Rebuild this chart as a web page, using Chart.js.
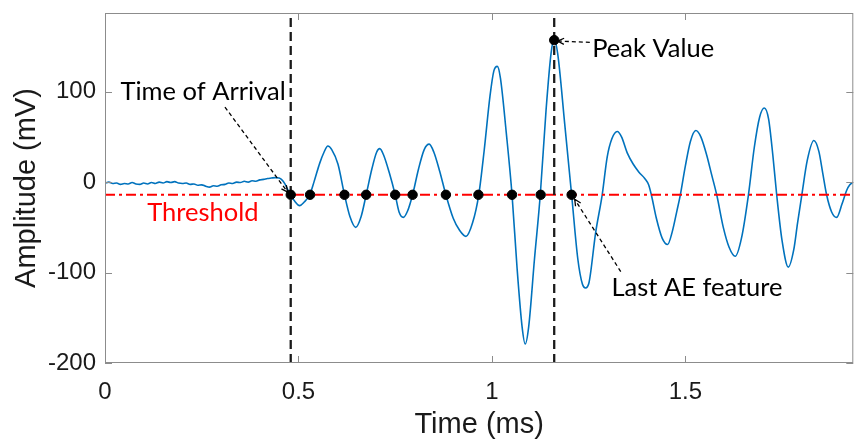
<!DOCTYPE html>
<html>
<head>
<meta charset="utf-8">
<script src="https://cdn.jsdelivr.net/npm/chart.js@4/dist/chart.umd.min.js"></script>
<style>
  body { margin: 0; background: #fff; }
  canvas { display: block; }
</style>
</head>
<body>
<canvas id="aechart" width="859" height="439"></canvas>
<script>
// waveform: time (ms) and amplitude (mV)
var waveTime = [
    0.000, 0.010, 0.020, 0.030, 0.040, 0.050, 0.060, 0.070, 0.080, 0.090,
    0.100, 0.110, 0.120, 0.130, 0.140, 0.150, 0.160, 0.170, 0.180, 0.190,
    0.200, 0.210, 0.220, 0.230, 0.240, 0.250, 0.260, 0.270, 0.280, 0.290,
    0.300, 0.310, 0.320, 0.330, 0.340, 0.350, 0.360, 0.370, 0.380, 0.390,
    0.400, 0.410, 0.420, 0.430, 0.440, 0.450, 0.456, 0.465, 0.472, 0.480,
    0.490, 0.503, 0.515, 0.529, 0.540, 0.555, 0.566, 0.576, 0.586, 0.602,
    0.619, 0.633, 0.648, 0.662, 0.675, 0.690, 0.702, 0.710, 0.720, 0.735,
    0.750, 0.760, 0.771, 0.782, 0.795, 0.810, 0.825, 0.838, 0.850, 0.865,
    0.881, 0.900, 0.916, 0.933, 0.950, 0.966, 0.980, 0.995, 1.005, 1.014,
    1.022, 1.037, 1.052, 1.065, 1.078, 1.086, 1.095, 1.110, 1.125, 1.140,
    1.153, 1.161, 1.170, 1.188, 1.206, 1.222, 1.234, 1.242, 1.251, 1.268,
    1.285, 1.298, 1.310, 1.324, 1.335, 1.350, 1.365, 1.380, 1.395, 1.405,
    1.412, 1.425, 1.440, 1.454, 1.466, 1.478, 1.487, 1.500, 1.513, 1.527,
    1.540, 1.555, 1.568, 1.581, 1.598, 1.613, 1.629, 1.645, 1.663, 1.678,
    1.692, 1.704, 1.715, 1.726, 1.736, 1.750, 1.766, 1.780, 1.790, 1.801,
    1.815, 1.832, 1.845, 1.855, 1.865, 1.878, 1.891, 1.905, 1.917, 1.925,
    1.934
];
var waveAmp = [
    -1, 0, -1.5, -1, -2.5, -1.5, -2, -0.5, -2, -2.5,
    -1, -2, -0.5, -1.5, 0, -1, 0.5, -0.5, 0.5, -1,
    -1.5, -1, -2.5, -2, -3.5, -3, -4.5, -5.5, -4, -4.5,
    -3, -2.5, -1, -1.5, 0, -0.5, 1, 0, 1.5, 1,
    2.5, 3, 4, 4.5, 5, 4.5, 3, -2, -8, -14,
    -21, -26, -22, -14, 0, 21, 33, 40, 36, 20,
    -14, -38, -50, -38, -14, 15, 33, 37, 30, 10,
    -14, -33, -39, -32, -14, 14, 36, 42, 33, 12,
    -14, -40, -53, -60, -45, -14, 35, 95, 123, 128,
    115, 55, -14, -95, -160, -179, -160, -85, -14, 80,
    143, 158, 142, 65, -14, -85, -113, -117, -111, -56,
    -14, 28, 48, 56, 50, 32, 20, 11, 4, -3,
    -14, -40, -62, -69, -55, -32, -14, 18, 45, 57,
    50, 30, 8, -14, -50, -72, -82, -62, -14, 38,
    72, 82, 70, 30, -14, -65, -94, -75, -45, -14,
    24, 46, 34, 10, -14, -33, -39, -24, -9, -3,
    0
];

var threshold = -14;
// threshold crossings marked with dots
var crossTimes = [0.480, 0.530, 0.619, 0.675, 0.750, 0.795, 0.881, 0.965, 1.052, 1.126, 1.206];
var arrivalTime = 0.480;
var peakTime = 1.161;
var peakValue = 157;

var xMin = 0;
var xMax = 1.934;
var yMin = -200;
var yMax = 187;
var xTicks = [0, 0.5, 1, 1.5];
var yTicks = [-200, -100, 0, 100];

// annotations in data units
var notes = [
    { text: 'Time of Arrival', x: 0.040, y: 91, color: '#000',
      arrow: { x1: 0.310, y1: 83, x2: 0.472, y2: -11, head: true } },
    { text: 'Peak Value', x: 1.259, y: 138, color: '#000',
      arrow: { x1: 1.253, y1: 154.5, x2: 1.170, y2: 156, head: true } },
    { text: 'Last AE feature', x: 1.309, y: -125.5, color: '#000',
      arrow: { x1: 1.333, y1: -99, x2: 1.214, y2: -19, head: true } },
    { text: 'Threshold', x: 0.109, y: -43, color: '#ff0000' }
];

var wave = waveTime.map(function (t, i) { return { x: t, y: waveAmp[i] }; });
var dots = crossTimes.map(function (t) { return { x: t, y: threshold }; });
dots.push({ x: peakTime, y: peakValue });

var tickFont = { family: 'Liberation Sans', size: 24 };
var titleFont = { family: 'Liberation Sans', size: 29, lineHeight: 1 };
var noteFont = '25.5px Lato';

var frame = {
    id: 'frame',
    afterDatasetsDraw: function (chart) {
        var c = chart.ctx;
        var a = chart.chartArea;
        var xs = chart.scales.x;
        var ys = chart.scales.y;
        var len = 7;

        c.save();
        c.strokeStyle = '#8c8c8c';
        c.lineWidth = 1;
        c.strokeRect(a.left + 0.5, a.top + 0.5, a.right - a.left - 1, a.bottom - a.top - 1);
        c.beginPath();
        xTicks.forEach(function (v) {
            var px = Math.round(xs.getPixelForValue(v)) + 0.5;
            c.moveTo(px, a.bottom); c.lineTo(px, a.bottom - len);
            c.moveTo(px, a.top); c.lineTo(px, a.top + len);
        });
        yTicks.forEach(function (v) {
            var py = Math.round(ys.getPixelForValue(v)) + 0.5;
            c.moveTo(a.left, py); c.lineTo(a.left + len, py);
            c.moveTo(a.right, py); c.lineTo(a.right - len, py);
        });
        c.stroke();

        notes.forEach(function (n) {
            c.font = noteFont;
            c.fillStyle = n.color;
            c.textBaseline = 'alphabetic';
            c.textAlign = 'left';
            c.fillText(n.text, xs.getPixelForValue(n.x), ys.getPixelForValue(n.y));
            if (!n.arrow) return;
            var x1 = xs.getPixelForValue(n.arrow.x1), y1 = ys.getPixelForValue(n.arrow.y1);
            var x2 = xs.getPixelForValue(n.arrow.x2), y2 = ys.getPixelForValue(n.arrow.y2);
            c.strokeStyle = '#000';
            c.lineWidth = 1.3;
            c.setLineDash([4, 3]);
            c.beginPath();
            c.moveTo(x1, y1); c.lineTo(x2, y2);
            c.stroke();
            c.setLineDash([]);
            if (n.arrow.head) {
                var ang = Math.atan2(y2 - y1, x2 - x1);
                var h = 7;
                c.beginPath();
                c.moveTo(x2 - h * Math.cos(ang - 0.45), y2 - h * Math.sin(ang - 0.45));
                c.lineTo(x2, y2);
                c.lineTo(x2 - h * Math.cos(ang + 0.45), y2 - h * Math.sin(ang + 0.45));
                c.stroke();
            }
        });
        c.restore();
    }
};

var ctx = document.getElementById('aechart').getContext('2d');
var myChart = new Chart(ctx, {
    type: 'scatter',
    data: {
        datasets: [{
            label: 'features',
            data: dots,
            backgroundColor: '#000',
            borderColor: '#000',
            pointRadius: 4.7,
            order: 0
        }, {
            label: 'arrival',
            data: [{ x: arrivalTime, y: yMin }, { x: arrivalTime, y: yMax }],
            showLine: true,
            borderColor: '#1a1a1a',
            borderWidth: 2.3,
            borderDash: [9, 5],
            pointRadius: 0,
            order: 1
        }, {
            label: 'peak',
            data: [{ x: peakTime, y: yMin }, { x: peakTime, y: yMax }],
            showLine: true,
            borderColor: '#1a1a1a',
            borderWidth: 2.3,
            borderDash: [9, 5],
            pointRadius: 0,
            order: 1
        }, {
            label: 'threshold',
            data: [{ x: xMin, y: threshold }, { x: xMax, y: threshold }],
            showLine: true,
            borderColor: '#ff0000',
            borderWidth: 2,
            borderDash: [10, 4, 3, 4],
            pointRadius: 0,
            order: 2
        }, {
            label: 'signal',
            data: wave,
            showLine: true,
            borderColor: '#0072BD',
            borderWidth: 1.6,
            pointRadius: 0,
            cubicInterpolationMode: 'monotone',
            order: 3
        }]
    },
    options: {
        responsive: false,
        animation: false,
        events: [],
        layout: { padding: { top: 13, right: 4, left: 0, bottom: 0 } },
        plugins: {
            legend: { display: false },
            tooltip: { enabled: false }
        },
        scales: {
            x: {
                type: 'linear',
                min: xMin,
                max: xMax,
                afterBuildTicks: function (s) {
                    s.ticks = xTicks.map(function (v) { return { value: v }; });
                },
                afterFit: function (s) {
                    s.height = 76;
                    s.paddingLeft = 0;
                    s.paddingRight = 0;
                },
                grid: { display: false, drawTicks: false },
                border: { display: false },
                ticks: {
                    font: tickFont,
                    color: '#1a1a1a',
                    padding: 15,
                    maxRotation: 0,
                    callback: function (v) { return String(v); }
                },
                title: {
                    display: true,
                    text: 'Time (ms)',
                    font: titleFont,
                    color: '#1a1a1a',
                    padding: { top: 0, bottom: 0 }
                }
            },
            y: {
                min: yMin,
                max: yMax,
                afterBuildTicks: function (s) {
                    s.ticks = yTicks.map(function (v) { return { value: v }; });
                },
                afterFit: function (s) {
                    s.width = 105;
                    s.paddingTop = 0;
                    s.paddingBottom = 0;
                },
                grid: { display: false, drawTicks: false },
                border: { display: false },
                ticks: {
                    font: tickFont,
                    color: '#1a1a1a',
                    padding: 9,
                    callback: function (v) { return String(v); }
                },
                title: {
                    display: true,
                    text: 'Amplitude (mV)',
                    font: titleFont,
                    color: '#1a1a1a',
                    padding: { top: 12, bottom: 0 }
                }
            }
        }
    },
    plugins: [frame]
});
</script>
</body>
</html>
